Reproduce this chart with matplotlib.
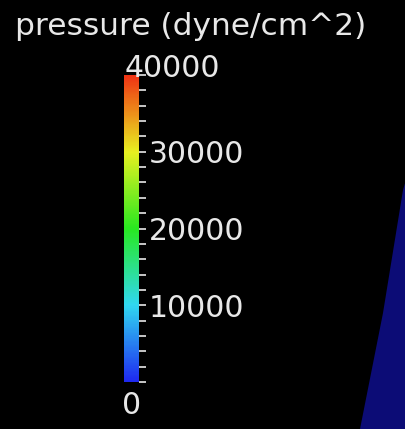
import numpy as np
import matplotlib
matplotlib.use('Agg')
from matplotlib import pyplot as plt
from matplotlib.colors import LinearSegmentedColormap, Normalize
from matplotlib.cm import ScalarMappable

# pressure colour scale (dyne/cm^2)
p_min, p_max = 0, 40000
major_ticks = [0, 10000, 20000, 30000, 40000]
minor_step = 2000
tick_labels = ['', '10000', '20000', '30000', '']

# rainbow stops of the lookup table, blue -> red
stop_pos = [0.0, 0.25, 0.5, 0.75, 1.0]
stop_rgb = ['#1e28f0', '#30d8f0', '#28e820', '#e8f020', '#f03214']

# low-pressure surface visible at the right of the view (pixel space)
surf_x = [406, 403, 383, 360, 406]
surf_y = [180, 190, 313, 429, 429]

fg = '#e8e8e8'
W, H = 406, 429
fig = plt.figure(figsize=(W / 100, H / 100), dpi=100, facecolor='black')

# background scene
bg = fig.add_axes([0, 0, 1, 1])
bg.set_xlim(0, W)
bg.set_ylim(H, 0)
bg.set_facecolor('black')
bg.axis('off')
bg.fill(surf_x, surf_y, color='#0c0c76', lw=0)

# colour bar
cmap = LinearSegmentedColormap.from_list('rainbow', list(zip(stop_pos, stop_rgb)))
cax = fig.add_axes([124 / W, 1 - 382 / H, 15 / W, 307 / H])
sm = ScalarMappable(norm=Normalize(p_min, p_max), cmap=cmap)
cb = fig.colorbar(sm, cax=cax, ticks=major_ticks)
cb.outline.set_visible(False)
cb.ax.set_yticklabels(tick_labels)
cb.ax.set_yticks(np.arange(p_min, p_max + 1, minor_step), minor=True)
cb.ax.tick_params(which='both', colors=fg, length=5, width=1.2, direction='out',
                  pad=2, labelsize=21.5)

fig.text(125 / W, 1 - 77 / H, '40000', color=fg, fontsize=21.5,
         ha='left', va='baseline')
fig.text(132 / W, 1 - 391 / H, '0', color=fg, fontsize=21.5,
         ha='center', va='top')
fig.text(15 / W, 1 - 35 / H, 'pressure (dyne/cm^2)', color=fg, fontsize=22.5,
         ha='left', va='baseline')

fig.savefig('out.png', dpi=100, facecolor='black')
